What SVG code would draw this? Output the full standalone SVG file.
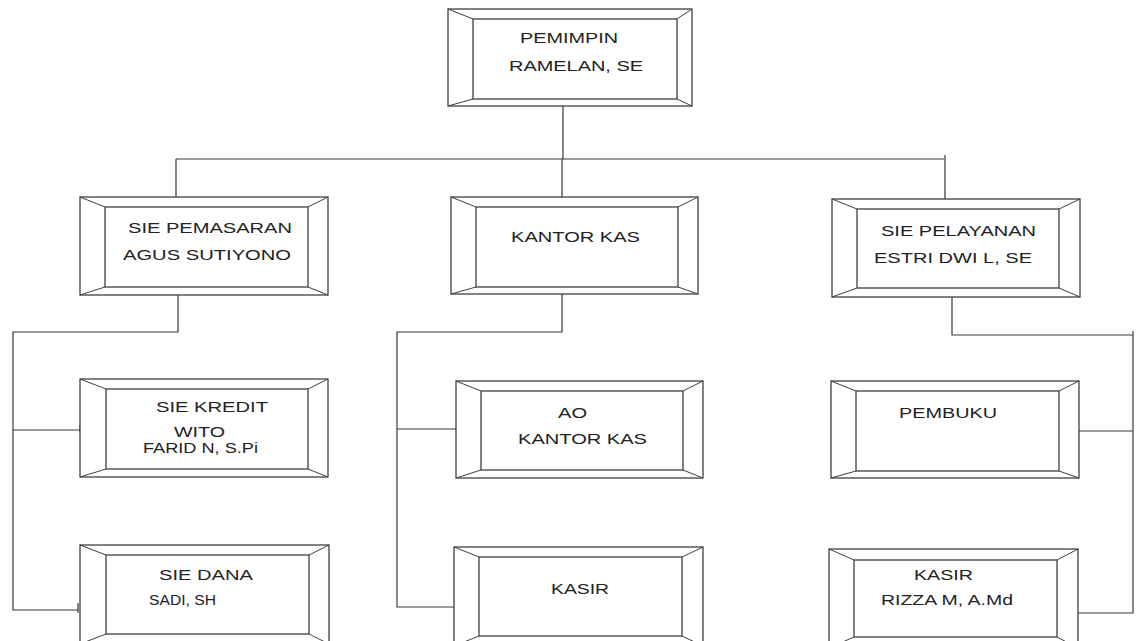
<svg xmlns="http://www.w3.org/2000/svg" width="1138" height="641" viewBox="0 0 1138 641">
<style>
.o{fill:#fff;stroke:#404040;stroke-width:1.3}
.i{fill:#fff;stroke:#404040;stroke-width:1.3}
.d{stroke:#404040;stroke-width:1;fill:none}
.c{stroke:#383838;stroke-width:1.2;fill:none}
text{font-family:"Liberation Sans",Arial,sans-serif;font-size:14px;fill:#222}
</style>
<rect width="1138" height="641" fill="#fff"/>
<g id="connectors">
<path class="c" d="M563 106V159M176 159H944M176 159V197M562 159V197M945 155V199"/>
<path class="c" d="M178 295V332H13V610H78M78 603V613M13 430H80M80 425V432"/>
<path class="c" d="M562 294V332H397V607H457M457 602V610M397 429H457M457 425V432"/>
<path class="c" d="M952 297V335H1133M1133 331V613H1078M1079 431H1133"/>
</g>
<g id="pemimpin">
<rect class="o" x="448" y="9" width="244" height="97"/>
<rect class="i" x="473" y="19" width="204" height="80"/>
<path class="d" d="M448 9L473 19M692 9L677 19M448 106L473 99M692 106L677 99"/>
<text x="520" y="43" textLength="98" lengthAdjust="spacingAndGlyphs">PEMIMPIN</text>
<text x="509" y="71" textLength="134" lengthAdjust="spacingAndGlyphs">RAMELAN, SE</text>
</g>
<g id="sie-pemasaran">
<rect class="o" x="80" y="197" width="248" height="98"/>
<rect class="i" x="105" y="207" width="203" height="80"/>
<path class="d" d="M80 197L105 207M328 197L308 207M80 295L105 287M328 295L308 287"/>
<text x="128" y="233" textLength="164" lengthAdjust="spacingAndGlyphs">SIE PEMASARAN</text>
<text x="123" y="260" textLength="168" lengthAdjust="spacingAndGlyphs">AGUS SUTIYONO</text>
</g>
<g id="kantor-kas">
<rect class="o" x="451" y="197" width="247" height="97"/>
<rect class="i" x="476" y="207" width="202" height="80"/>
<path class="d" d="M451 197L476 207M698 197L678 207M451 294L476 287M698 294L678 287"/>
<text x="511" y="242" textLength="129" lengthAdjust="spacingAndGlyphs">KANTOR KAS</text>
</g>
<g id="sie-pelayanan">
<rect class="o" x="832" y="199" width="248" height="98"/>
<rect class="i" x="857" y="209" width="202" height="79"/>
<path class="d" d="M832 199L857 209M1080 199L1059 209M832 297L857 288M1080 297L1059 288"/>
<text x="881" y="236" textLength="155" lengthAdjust="spacingAndGlyphs">SIE PELAYANAN</text>
<text x="874" y="263" textLength="158" lengthAdjust="spacingAndGlyphs">ESTRI DWI L, SE</text>
</g>
<g id="sie-kredit">
<rect class="o" x="80" y="379" width="248" height="98"/>
<rect class="i" x="106" y="389" width="202" height="80"/>
<path class="d" d="M80 379L106 389M328 379L308 389M80 477L106 469M328 477L308 469"/>
<text x="156" y="412" textLength="112" lengthAdjust="spacingAndGlyphs">SIE KREDIT</text>
<text x="174" y="437" textLength="51" lengthAdjust="spacingAndGlyphs">WITO</text>
<text x="143" y="453" textLength="115" lengthAdjust="spacingAndGlyphs">FARID N, S.Pi</text>
</g>
<g id="ao-kantor-kas">
<rect class="o" x="456" y="381" width="247" height="97"/>
<rect class="i" x="481" y="391" width="202" height="79"/>
<path class="d" d="M456 381L481 391M703 381L683 391M456 478L481 470M703 478L683 470"/>
<text x="558" y="418" textLength="29" lengthAdjust="spacingAndGlyphs">AO</text>
<text x="518" y="444" textLength="129" lengthAdjust="spacingAndGlyphs">KANTOR KAS</text>
</g>
<g id="pembuku">
<rect class="o" x="831" y="381" width="248" height="97"/>
<rect class="i" x="856" y="391" width="203" height="80"/>
<path class="d" d="M831 381L856 391M1079 381L1059 391M831 478L856 471M1079 478L1059 471"/>
<text x="899" y="418" textLength="98" lengthAdjust="spacingAndGlyphs">PEMBUKU</text>
</g>
<g id="sie-dana">
<rect class="o" x="80" y="545" width="249" height="99"/>
<rect class="i" x="106" y="555" width="203" height="79"/>
<path class="d" d="M80 545L106 555M329 545L309 555M80 644L106 634M329 644L309 634"/>
<text x="159" y="580" textLength="94" lengthAdjust="spacingAndGlyphs">SIE DANA</text>
<text x="149" y="605" textLength="67" lengthAdjust="spacingAndGlyphs">SADI, SH</text>
</g>
<g id="kasir-kantor-kas">
<rect class="o" x="454" y="547" width="249" height="99"/>
<rect class="i" x="479" y="557" width="203" height="79"/>
<path class="d" d="M454 547L479 557M703 547L682 557M454 646L479 636M703 646L682 636"/>
<text x="551" y="594" textLength="58" lengthAdjust="spacingAndGlyphs">KASIR</text>
</g>
<g id="kasir-pelayanan">
<rect class="o" x="829" y="549" width="249" height="99"/>
<rect class="i" x="854" y="560" width="203" height="77"/>
<path class="d" d="M829 549L854 560M1078 549L1057 560M829 648L854 637M1078 648L1057 637"/>
<text x="914" y="580" textLength="59" lengthAdjust="spacingAndGlyphs">KASIR</text>
<text x="881" y="605" textLength="132" lengthAdjust="spacingAndGlyphs">RIZZA M, A.Md</text>
</g>
</svg>
